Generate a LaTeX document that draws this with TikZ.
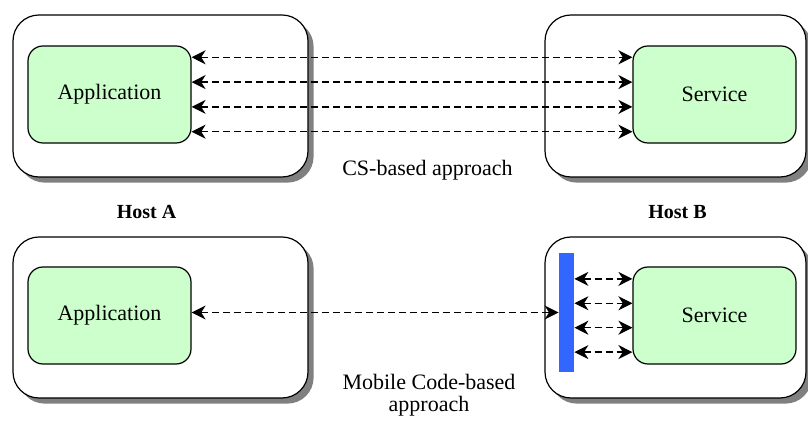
\documentclass[tikz,border=0pt]{standalone}
\usepackage{fontspec}
\setmainfont{Liberation Serif}
\usepackage{tikz}
\usetikzlibrary{arrows.meta,shadows}
\definecolor{hostgreen}{HTML}{CCFFCC}
\definecolor{hostshadow}{HTML}{808080}
\definecolor{codeblue}{HTML}{3366FF}

\begin{document}
\begin{tikzpicture}[x=0.5pt,y=-0.5pt,
    host/.style={draw,line width=0.6pt,fill=white,rounded corners=13pt,
      drop shadow={shadow xshift=2.8pt,shadow yshift=-2.8pt,fill=hostshadow,opacity=1}},
    proc/.style={draw,line width=0.6pt,fill=hostgreen,rounded corners=7.5pt,
      minimum width=81.5pt,minimum height=48.5pt,font=\fontsize{11}{13}\selectfont},
    link/.style={line width=0.65pt,dash pattern=on 3.5pt off 2pt,
      {Stealth[length=7pt,width=7pt,inset=2.2pt]}-{Stealth[length=7pt,width=7pt,inset=2.2pt]}},
    caption/.style={font=\fontsize{11}{11}\selectfont,align=center}]
    \useasboundingbox (0,0) rectangle (808,421);
    % hosts
    \node[host,minimum width=147.5pt,minimum height=81pt] (hostA1) at (160.5,96) {};
    \node[host,minimum width=130.5pt,minimum height=81pt] (hostB1) at (675.5,96) {};
    \node[host,minimum width=147.5pt,minimum height=80.5pt] (hostA2) at (160.5,317.5) {};
    \node[host,minimum width=130.5pt,minimum height=80.5pt] (hostB2) at (675.5,317.5) {};
    % processes
    \node[proc] (app1) at (109.5,94.5) {Application};
    \node[proc] (srv1) at (714.5,94.5) {Service};
    \node[proc] (app2) at (109.5,315.5) {Application};
    \node[proc] (srv2) at (714.5,315.5) {Service};
    \node[fill=codeblue,inner sep=0pt,minimum width=7.5pt,minimum height=59.5pt] (bar) at (566.5,312.5) {};
    % CS-based links
    \foreach \k in {-1.5,-0.5,0.5,1.5}
      \draw[link] ([yshift=\k*12.4pt]app1.east) -- ([yshift=\k*12.4pt]srv1.west);
    % mobile code links
    \draw[link] (app2.east |- bar.west) -- (bar.west);
    \foreach \k in {-1.5,-0.5,0.5,1.5} {
      \path ([yshift=\k*12.2pt]srv2.west) coordinate (t);
      \draw[link] (bar.east |- t) -- (t);
    }
    % labels
    \node[caption] (cs) at (427.5,170) {CS-based approach};
    \node[caption] (mc) at (429,395) {Mobile Code-based\\approach};
    \node[font=\fontsize{10}{12}\selectfont\bfseries] (labA) at (146.5,212) {Host A};
    \node[font=\fontsize{10}{12}\selectfont\bfseries] (labB) at (677.5,212) {Host B};
  \end{tikzpicture}
\end{document}
